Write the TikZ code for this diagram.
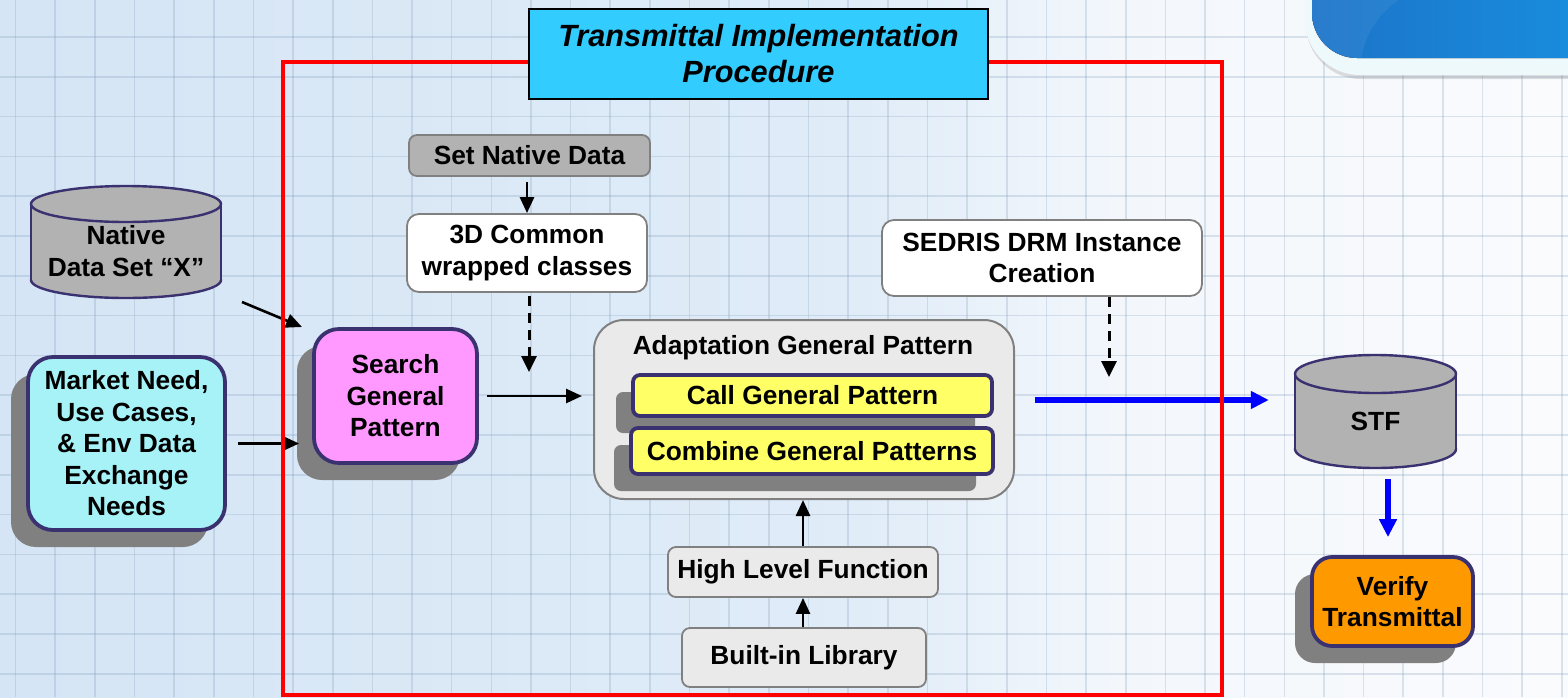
\documentclass[tikz,border=0pt]{standalone}
\usepackage{fontspec}
\setmainfont{Liberation Sans}
\usetikzlibrary{arrows.meta,shadows}

\definecolor{bgleft}{RGB}{213,229,245}
\definecolor{bgmid}{RGB}{224,236,248}
\definecolor{bglight}{RGB}{243,247,252}
\definecolor{bgright}{RGB}{250,251,253}
\definecolor{gridline}{RGB}{120,150,180}
\definecolor{navy}{RGB}{58,50,112}
\definecolor{shadowgray}{RGB}{128,128,128}
\definecolor{boxgray}{RGB}{178,178,178}
\definecolor{panelgray}{RGB}{234,234,234}
\definecolor{edgegray}{RGB}{128,128,128}
\definecolor{needcyan}{RGB}{166,242,246}
\definecolor{searchpink}{RGB}{255,153,255}
\definecolor{callyellow}{RGB}{255,255,102}
\definecolor{verifyorange}{RGB}{255,153,0}
\definecolor{titlecyan}{RGB}{51,204,255}
\definecolor{framered}{RGB}{255,0,0}
\definecolor{arrowblue}{RGB}{0,0,255}
\definecolor{glossleft}{RGB}{28,116,200}
\definecolor{glossright}{RGB}{24,146,226}
\definecolor{glossrim}{RGB}{238,249,252}

% database drum: centre x, y of top cap, y of bottom cap, x radius, y radius
\newcommand{\drawcylinder}[5]{%
  \fill[boxgray] ({#1-#4},#2) rectangle ({#1+#4},#3);
  \filldraw[dbcyl] (#1,#3) ellipse [x radius=#4, y radius=#5];
  \fill[boxgray] ({#1-#4},#2) rectangle ({#1+#4},#3);
  \draw[navy, line width=2.4pt] ({#1-#4},#2) -- ({#1-#4},#3) ({#1+#4},#2) -- ({#1+#4},#3);
  \filldraw[dbcyl] (#1,#2) ellipse [x radius=#4, y radius=#5];
}

\tikzset{
  dbcyl/.style={fill=boxgray, draw=navy, line width=2.4pt},
  txt/.style={font=\fontsize{26.3}{31.5}\selectfont\bfseries, align=center, inner sep=0pt, text=black},
  sized/.style 2 args={minimum width=#1pt, minimum height=#2pt},
  navybox/.style={txt, draw=navy, line width=3.8pt},
  graybox/.style={txt, draw=edgegray, line width=1.8pt},
  shadowed/.style={drop shadow={shadow xshift=-17pt, shadow yshift=-17pt, fill=shadowgray, opacity=1}},
  arr/.style={draw=black, line width=2.6pt, -{Triangle[length=16pt,width=14pt]}},
  dasharr/.style={draw=black, line width=3pt, dash pattern=on 10pt off 7pt, -{Triangle[length=16pt,width=15pt]}},
  bluearr/.style={draw=arrowblue, line width=5.4pt, -{Triangle[length=18pt,width=17pt]}},
  gridrule/.style={draw=gridline, draw opacity=0.24, line width=1.6pt},
}

\begin{document}
\begin{tikzpicture}[x=1pt,y=-1pt]
\useasboundingbox (0,0) rectangle (1568,697);

% backdrop: pale blue paper with a grid, glossy tab in the corner
\begin{scope}
  \clip (0,0) rectangle (1568,697);
  \fill[left color=bgleft, right color=bgmid] (0,0) rectangle (861,697);
  \fill[left color=bgmid, right color=bglight] (860,0) rectangle (1121,697);
  \fill[left color=bglight, right color=bgright] (1120,0) rectangle (1568,697);
  \foreach \gx in {0,...,39}
    \draw[gridrule] ({15.5+39.65*\gx},0) -- ++(0,697);
  \foreach \gy in {0,...,17}
    \draw[gridrule] (0,{-2.8+39.8*\gy}) -- ++(1568,0);
  \fill[gray, opacity=0.25, rounded corners=55pt] (1306,-60) rectangle (1640,79);
  \fill[glossrim, rounded corners=55pt] (1305,-60) rectangle (1640,75);
  \fill[left color=glossleft, right color=glossright, rounded corners=45pt] (1312,-60) rectangle (1640,58);
  \begin{scope}
    \clip[rounded corners=45pt] (1312,-60) rectangle (1640,58);
    \fill[white, opacity=0.06] (1300,-10) -- (1398,-10) -- (1398,0) .. controls (1375,18) and (1362,38) .. (1360,70) -- (1300,70) -- cycle;
  \end{scope}
\end{scope}

% data stores
\drawcylinder{126}{204}{280}{95}{18}
\drawcylinder{1375.5}{374}{449}{80.5}{19}

% nodes
\node[txt, sized={190}{94}] (native) at (126,251) {Native\\Data Set “X”};
\node[txt, sized={161}{94}] (stf) at (1375.5,421) {STF};

\node[navybox, fill=needcyan, rounded corners=25pt, shadowed, sized={197}{173}] (market) at (126.5,443.5)
  {Market Need,\\Use Cases,\\\& Env Data\\Exchange\\Needs};
\node[navybox, fill=searchpink, rounded corners=25pt, shadowed, sized={163}{134}] (search) at (395.5,396)
  {Search\\General\\Pattern};

\node[graybox, fill=boxgray, rounded corners=8pt, sized={241}{41}] (setnative) at (529.5,155.5) {Set Native Data};
\node[graybox, fill=white, rounded corners=12pt, sized={240}{78}] (common3d) at (527,253) {3D Common\\wrapped classes};

\node[draw=edgegray, line width=2pt, fill=panelgray, rounded corners=30pt, sized={420}{179}] (adapt) at (804,409.5) {};
\node[txt] (adapttitle) at (803,348) {Adaptation General Pattern};
\node[navybox, fill=callyellow, rounded corners=7pt, shadowed, sized={359}{41}] (call) at (812.5,395.5) {Call General Pattern};
\node[navybox, fill=callyellow, rounded corners=7pt, shadowed, sized={362}{46}] (combine) at (812,451) {Combine General Patterns};

\node[graybox, fill=panelgray, rounded corners=8pt, sized={270}{50}] (hlf) at (803,572) {High Level Function};
\node[graybox, fill=panelgray, rounded corners=8pt, sized={244}{59}] (builtin) at (804,657.5) {Built-in Library};

\node[graybox, fill=white, rounded corners=12pt, sized={320}{76}] (sedris) at (1042,258) {SEDRIS DRM Instance\\Creation};

\node[navybox, fill=verifyorange, rounded corners=20pt, shadowed, sized={161}{89}] (verify) at (1392.5,601.5) {Verify\\Transmittal};

% connector end points
\coordinate (nativeout) at (242,302);
\coordinate (searchin) at (302,327);
\coordinate (wrapin) at (529,372);
\coordinate (drmin) at (1109,377);
\coordinate (bluerow) at (0,400);
\coordinate (stfdrop) at (1388,0);

% connectors
\draw[arr] (nativeout) -- (searchin);
\draw[arr, shorten <=11pt, shorten >=13pt] (market.east) -- (market.east -| search.west);
\draw[arr, shorten <=8pt, shorten >=11pt] (search.east) -- (search.east -| adapt.west);
\draw[arr, shorten <=5pt] (setnative.south -| common3d.north) -- (common3d.north);
\draw[dasharr, shorten <=3pt] (common3d.south -| wrapin) -- (wrapin);
\draw[dasharr] (sedris.south -| drmin) -- (drmin);
\draw[bluearr, shorten <=20pt, shorten >=26pt] (adapt.east |- bluerow) -- (stf.west |- bluerow);
\draw[bluearr, shorten <=11pt, shorten >=18pt] (stf.south -| stfdrop) -- (verify.north -| stfdrop);
\draw[arr] (hlf.north) -- (hlf.north |- adapt.south);
\draw[arr] (builtin.north -| hlf.south) -- (hlf.south);

% procedure frame and its heading
\draw[framered, line width=4pt] (283,62) rectangle (1222,695);
\node[draw=black, line width=2pt, fill=titlecyan, sized={459}{90}, inner sep=0pt,
      font=\fontsize{30.7}{36}\selectfont\bfseries\itshape, align=center] (title) at (758.4,54)
  {Transmittal Implementation\\Procedure};
\end{tikzpicture}
\end{document}
